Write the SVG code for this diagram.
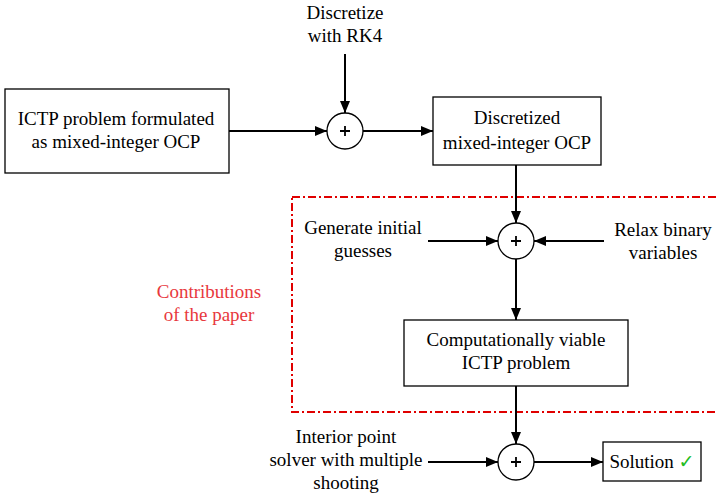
<svg xmlns="http://www.w3.org/2000/svg" width="717" height="494" viewBox="0 0 717 494">
<defs>
<marker id="ah" markerWidth="12" markerHeight="10" refX="12" refY="5" orient="auto" markerUnits="userSpaceOnUse">
<path d="M0,0 L12,5 L0,10 Z" fill="#000"/>
</marker>
<style>
.box{fill:#fff;stroke:#000;stroke-width:1.3}
.sum{fill:#fff;stroke:#000;stroke-width:1.3}
.plus{stroke:#000;stroke-width:1.8}
.t{fill:#000;text-anchor:middle}
.red{fill:#e8383d}
.edge{stroke:#000;stroke-width:2;fill:none;marker-end:url(#ah)}
</style>
</defs>
<rect width="717" height="494" fill="#fff"/>
<g id="contrib-region">
<rect x="292" y="197" width="440" height="215" fill="none" stroke="#e00000" stroke-width="2" stroke-dasharray="8 3 2 3"/>
<text class="t red" x="209" y="298" style="font-family:'Liberation Serif',serif;font-size:19px">Contributions</text>
<text class="t red" x="209" y="321" style="font-family:'Liberation Serif',serif;font-size:19px">of the paper</text>
</g>
<g id="connectors">
<path class="edge" d="M229,131 L327,131"/>
<path class="edge" d="M345,54 L345,113"/>
<path class="edge" d="M363,131 L433,131"/>
<path class="edge" d="M516,165 L516,223"/>
<path class="edge" d="M428,241 L498,241"/>
<path class="edge" d="M604,241 L534,241"/>
<path class="edge" d="M516,259 L516,320"/>
<path class="edge" d="M516,386 L516,444"/>
<path class="edge" d="M428,462 L498,462"/>
<path class="edge" d="M534,462 L603,462"/>
</g>
<g id="ictp-mi-ocp">
<rect class="box" x="5" y="89" width="224" height="84"/>
<text class="t" x="116" y="125" style="font-family:'Liberation Serif',serif;font-size:19px">ICTP problem formulated</text>
<text class="t" x="116" y="148" style="font-family:'Liberation Serif',serif;font-size:19px">as mixed-integer OCP</text>
</g>
<g id="discretize-label">
<text class="t" x="345" y="19" style="font-family:'Liberation Serif',serif;font-size:19px">Discretize</text>
<text class="t" x="345" y="42" style="font-family:'Liberation Serif',serif;font-size:19px">with RK4</text>
</g>
<g id="sum1">
<circle class="sum" cx="345" cy="131" r="18"/>
<path class="plus" d="M340,131 H350 M345,126 V136"/>
</g>
<g id="discretized-ocp">
<rect class="box" x="433" y="97" width="168" height="68"/>
<text class="t" x="517" y="124" style="font-family:'Liberation Serif',serif;font-size:19px">Discretized</text>
<text class="t" x="517" y="149" style="font-family:'Liberation Serif',serif;font-size:19px">mixed-integer OCP</text>
</g>
<g id="initial-guesses">
<text class="t" x="363" y="234" style="font-family:'Liberation Serif',serif;font-size:19px">Generate initial</text>
<text class="t" x="363" y="257" style="font-family:'Liberation Serif',serif;font-size:19px">guesses</text>
</g>
<g id="relax-binary">
<text class="t" x="663" y="236" style="font-family:'Liberation Serif',serif;font-size:19px">Relax binary</text>
<text class="t" x="663" y="259" style="font-family:'Liberation Serif',serif;font-size:19px">variables</text>
</g>
<g id="sum2">
<circle class="sum" cx="516" cy="241" r="18"/>
<path class="plus" d="M511,241 H521 M516,236 V246"/>
</g>
<g id="viable-ictp">
<rect class="box" x="404" y="320" width="224" height="66"/>
<text class="t" x="516" y="346" style="font-family:'Liberation Serif',serif;font-size:19px">Computationally viable</text>
<text class="t" x="516" y="369" style="font-family:'Liberation Serif',serif;font-size:19px">ICTP problem</text>
</g>
<g id="ip-solver">
<text class="t" x="346" y="443" style="font-family:'Liberation Serif',serif;font-size:19px">Interior point</text>
<text class="t" x="346" y="466" style="font-family:'Liberation Serif',serif;font-size:19px">solver with multiple</text>
<text class="t" x="346" y="489" style="font-family:'Liberation Serif',serif;font-size:19px">shooting</text>
</g>
<g id="sum3">
<circle class="sum" cx="516" cy="462" r="18"/>
<path class="plus" d="M511,462 H521 M516,457 V467"/>
</g>
<g id="solution">
<rect class="box" x="603" y="442" width="98" height="39"/>
<text class="t" x="652" y="468" style="font-family:'Liberation Serif',serif;font-size:19px">Solution <tspan fill="#22bb22" style="font-family:'DejaVu Sans',sans-serif">✓</tspan></text>
</g>
</svg>
